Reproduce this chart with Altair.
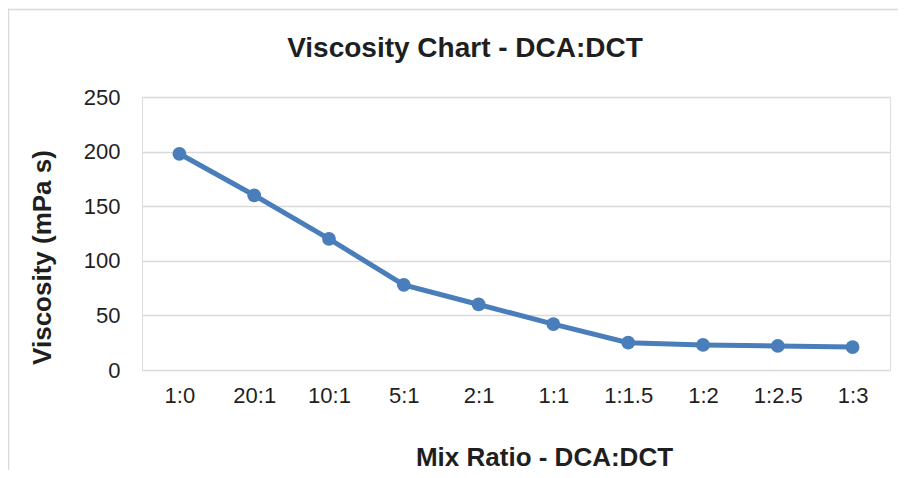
import altair as alt
import pandas as pd

ratios = ["1:0", "20:1", "10:1", "5:1", "2:1", "1:1", "1:1.5", "1:2", "1:2.5", "1:3"]
viscosity = [198, 160, 120, 78, 60, 42, 25, 23, 22, 21]
chart_title = ["Viscosity Chart - DCA:DCT"]

df = pd.DataFrame({"ratio": ratios, "viscosity": viscosity})

FONT = "Liberation Sans"
BLUE = "#4a7ebb"
TEXT = "#1f1f1f"

x = alt.X(
    "ratio:N",
    sort=ratios,
    scale=alt.Scale(paddingInner=0, paddingOuter=0),
    axis=alt.Axis(
        title="Mix Ratio - DCA:DCT",
        labelAngle=0,
        labelFontSize=22,
        labelFont=FONT,
        labelColor=TEXT,
        labelPadding=15,
        ticks=False,
        domain=False,
        grid=False,
        titleFont=FONT,
        titleFontSize=26,
        titleFontWeight="bold",
        titleColor=TEXT,
        titleX=402,
        titleY=95,
        titleBaseline="alphabetic",
        titleAlign="center",
    ),
)
y = alt.Y(
    "viscosity:Q",
    scale=alt.Scale(domain=[0, 250]),
    axis=alt.Axis(
        title="Viscosity (mPa s)",
        values=[0, 50, 100, 150, 200, 250],
        labelFontSize=22,
        labelFont=FONT,
        labelColor=TEXT,
        labelPadding=22,
        ticks=False,
        domain=False,
        gridColor="#d9d9d9",
        gridWidth=1.5,
        titleFont=FONT,
        titleFontSize=26,
        titleFontWeight="bold",
        titleColor=TEXT,
        titleX=-100,
        titleY=160,
        titleAngle=-90,
        titleAlign="center",
        titleBaseline="middle",
    ),
)

line = alt.Chart(df).mark_line(color=BLUE, strokeWidth=5).encode(x=x, y=y)
pts = alt.Chart(df).mark_circle(color=BLUE, opacity=1, size=190).encode(x=x, y=y)

frame_data = alt.Data(values=[{"f": 1}])
left_edge = alt.Chart(frame_data).mark_rule(color="#d9d9d9", strokeWidth=1.5).encode(
    x=alt.value(-133.5), y=alt.value(-88.25), y2=alt.value(400)
)
top_edge = alt.Chart(frame_data).mark_rule(color="#d9d9d9", strokeWidth=1.5).encode(
    x=alt.value(-134.25), x2=alt.value(800), y=alt.value(-87.5)
)

title_df = pd.DataFrame({"t": chart_title})
title_mark = alt.Chart(title_df).mark_text(
    font=FONT,
    fontSize=28,
    fontWeight="bold",
    color=TEXT,
    align="center",
    baseline="alphabetic",
).encode(text="t:N", x=alt.value(323), y=alt.value(-40))

chart = (
    alt.layer(left_edge, top_edge, line, pts, title_mark)
    .properties(
        width=748,
        height=273,
        padding={"left": 134, "top": 89, "right": 8, "bottom": 100},
        autosize=alt.AutoSizeParams(type="none"),
    )
    .configure_view(stroke=None)
    .configure(background="white")
)

chart.save("out.html", embed_options={"renderer": "svg", "actions": False})
